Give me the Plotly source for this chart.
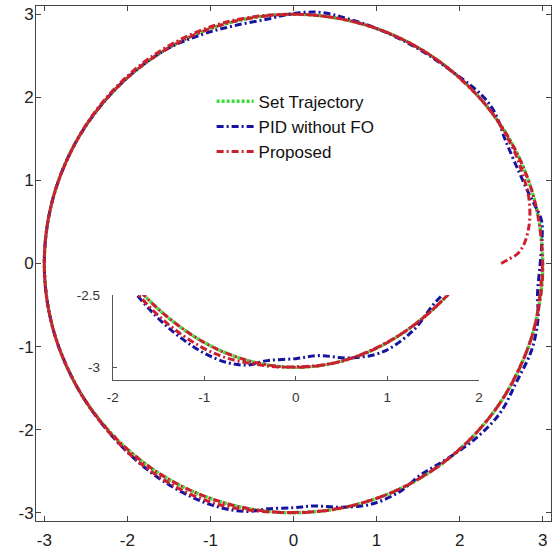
import numpy as np
import plotly.graph_objects as go

# ---------------- data (polar readings: angle in degrees, radius) ----------------
SET_THETA = [0, 10, 20, 30, 40, 50, 60, 70, 80, 90, 100, 110, 120, 130, 140, 150, 160, 170,
             180, 190, 200, 210, 220, 230, 240, 250, 260, 270, 280, 290, 300, 310, 320, 330,
             340, 350, 360]
SET_RADIUS = 3.0

PID_THETA = [0, 6, 10, 16, 22, 30, 37, 42, 50, 60, 70, 78, 84, 90, 96, 104, 112, 122, 135,
             150, 165, 180, 195, 210, 222, 232, 240, 246, 251, 256, 260, 264, 270, 275, 281,
             288, 295, 301, 308, 316, 324, 332, 340, 347, 353, 360]
PID_R = [2.97, 3.01, 3.03, 2.96, 2.93, 2.95, 3.03, 3.04, 3.00, 2.99, 3.00, 3.02, 3.04, 3.01,
         2.96, 2.95, 2.97, 3.00, 3.00, 3.00, 3.00, 3.00, 3.00, 3.00, 3.01, 3.035, 3.055, 3.065,
         3.07, 3.06, 3.03, 2.97, 2.94, 2.93, 2.99, 3.045, 3.03, 2.97, 2.99, 3.04, 3.07, 3.04,
         3.05, 3.02, 2.96, 2.97]

PROP_THETA = [0, 1, 2.5, 5, 9, 13, 17, 21, 26, 32, 40, 55, 70, 85, 100, 112, 125, 138, 150,
              165, 180, 195, 210, 222, 232, 242, 250, 256, 262, 268, 280, 295, 310, 325, 340,
              350, 360, 375, 390, 405, 420, 435, 450, 465, 480, 495, 510, 525, 540, 555, 570,
              585, 600, 615, 630, 645, 660, 675, 690, 705, 720]
PROP_R = [2.50, 2.58, 2.70, 2.79, 2.87, 2.92, 2.95, 2.96, 2.98, 2.99, 3.00, 3.00, 3.00, 3.00,
          3.01, 3.02, 3.02, 3.01, 3.00, 3.00, 3.00, 3.00, 3.00, 3.01, 3.03, 3.04, 3.04, 3.03,
          3.01, 3.00, 3.00, 3.00, 3.00, 3.00, 3.00, 3.00, 3.00, 3.00, 3.00, 3.00, 3.00, 3.00,
          3.00, 3.00, 3.00, 3.00, 3.00, 3.00, 3.00, 3.00, 3.00, 3.00, 3.00, 3.00, 3.00, 3.00,
          3.00, 3.00, 3.00, 3.00, 3.00]

MAIN_TICKS = [-3, -2, -1, 0, 1, 2, 3]
MAIN_TICK_TEXT = ["-3", "-2", "-1", "0", "1", "2", "3"]
INSET_X_TICKS = [-2, -1, 0, 1, 2]
INSET_X_TEXT = ["-2", "-1", "0", "1", "2"]
INSET_Y_TICKS = [-3, -2.5]
INSET_Y_TEXT = ["-3", "-2.5"]

NAMES = ["Set Trajectory", "PID without FO", "Proposed"]


def to_xy(theta, r):
    t = np.radians(np.asarray(theta, dtype=float))
    r = np.asarray(r, dtype=float)
    return r * np.cos(t), r * np.sin(t)


set_x, set_y = to_xy(SET_THETA, np.full(len(SET_THETA), SET_RADIUS))
pid_x, pid_y = to_xy(PID_THETA, PID_R)
prop_x, prop_y = to_xy(PROP_THETA, PROP_R)

styles = [
    dict(color="#3ddc3d", width=3.4, dash="3px,2px"),
    dict(color="#1414a0", width=3.0, dash="7px,3px,2px,3px"),
    dict(color="#cc1f2f", width=3.0, dash="7px,3px,2px,3px"),
]
series = [(set_x, set_y), (pid_x, pid_y), (prop_x, prop_y)]

fig = go.Figure()
for (sx, sy), st, name in zip(series, styles, NAMES):
    fig.add_trace(go.Scatter(x=sx, y=sy, mode="lines", name=name,
                             line=dict(shape="spline", smoothing=1, **st),
                             xaxis="x", yaxis="y"))
for (sx, sy), st, name in zip(series, styles, NAMES):
    fig.add_trace(go.Scatter(x=sx, y=sy, mode="lines", name=name, showlegend=False,
                             line=dict(shape="spline", smoothing=1, **st),
                             xaxis="x2", yaxis="y2"))

FONT = "Arial, Liberation Sans, sans-serif"
main_axis = dict(range=[-3.1, 3.1], tickmode="array", tickvals=MAIN_TICKS,
                 ticktext=MAIN_TICK_TEXT, ticks="inside", ticklen=5, tickcolor="#444",
                 showline=True, linecolor="#444", linewidth=1, mirror="ticks",
                 showgrid=False, zeroline=False, automargin=False,
                 tickfont=dict(family=FONT, size=17, color="#222"))
inset_axis = dict(ticks="inside", ticklen=4, tickcolor="#555", showline=True,
                  linecolor="#555", linewidth=1, showgrid=False, zeroline=False,
                  automargin=False, tickmode="array",
                  tickfont=dict(family=FONT, size=13.5, color="#333"))

fig.update_layout(
    width=555, height=549,
    margin=dict(l=36, r=4, t=6, b=28),
    paper_bgcolor="white", plot_bgcolor="white",
    xaxis=dict(domain=[0, 1], anchor="y", ticklabelstandoff=4, **main_axis),
    yaxis=dict(domain=[0, 1], anchor="x", ticklabelstandoff=-2, **main_axis),
    xaxis2=dict(domain=[0.149, 0.860], anchor="y2", range=[-2, 2], ticklabelstandoff=5,
                tickvals=INSET_X_TICKS, ticktext=INSET_X_TEXT, **inset_axis),
    yaxis2=dict(domain=[0.2734, 0.4388], anchor="x2", range=[-3.089, -2.5],
                tickvals=INSET_Y_TICKS, ticktext=INSET_Y_TEXT, ticklabelstandoff=9,
                **inset_axis),
    showlegend=True,
    legend=dict(x=0.341, y=0.849, xanchor="left", yanchor="top", itemwidth=37,
                bgcolor="rgba(255,255,255,0)", borderwidth=0, tracegroupgap=0,
                font=dict(family=FONT, size=17, color="#111")),
)

fig.write_html("out.html",
               config={"displayModeBar": False},
               post_script="document.body.style.margin='0px';"
                           "document.body.style.padding='0px';")
